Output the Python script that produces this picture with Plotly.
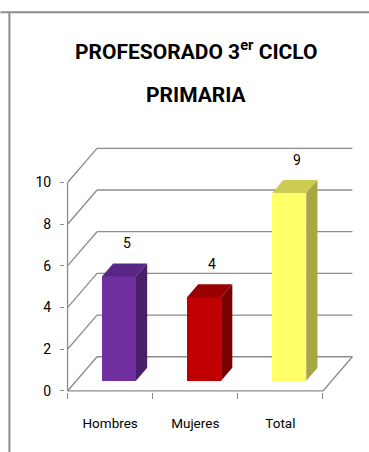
import plotly.graph_objects as go

# ---- data ----
categories = ["Hombres", "Mujeres", "Total"]
values = [5, 4, 9]
y_ticks = [0, 2, 4, 6, 8, 10]
front_colors = ["#7030A0", "#C00000", "#FFFF66"]
top_colors = ["#5B2787", "#990000", "#CCCC52"]
side_colors = ["#4A1F6A", "#7A0000", "#A6A645"]

# ---- page / projection geometry ----
W, H = 369, 452
UX, UY = 86.7, 20.8          # px per category unit / per value unit
X0PX, Y0PX = 62.0, 390.5     # pixel position of (x=-0.5, y=0)
XMIN, XMAX = -0.53, 2.9
YMIN, YMAX = -0.05, 11.8
DX, DY = 0.346, 1.64         # oblique depth offset (front plane -> back wall)
F0, F1 = 0.30, 0.68          # bar depth span as fractions of DX/DY
BAR_W = 0.40

ml = X0PX - (XMIN + 0.5) * UX
mr = W - (X0PX + (XMAX + 0.5) * UX)
mb = H - (Y0PX - YMIN * UY)
mt = Y0PX - YMAX * UY
pw, ph = W - ml - mr, H - mt - mb


def px(x):
    return (x - ml) / pw


def py(y):
    return (H - mb - y) / ph


GRID = "#8C8C8C"
FONT = "Roboto, Liberation Sans, sans-serif"

fig = go.Figure()

# front faces of the columns
b0 = F0 * DY
fig.add_trace(go.Bar(
    x=list(range(len(categories))), y=values, base=b0,
    width=BAR_W, offset=-BAR_W / 2 + F0 * DX,
    marker=dict(color=front_colors, line=dict(width=0)),
    hoverinfo="skip", showlegend=False,
))

# top and side faces
ddx, ddy = (F1 - F0) * DX, (F1 - F0) * DY
for i, v in enumerate(values):
    xl = i - BAR_W / 2 + F0 * DX
    xr = xl + BAR_W
    yt = v + b0
    fig.add_trace(go.Scatter(
        x=[xl, xr, xr + ddx, xl + ddx, xl], y=[yt, yt, yt + ddy, yt + ddy, yt],
        fill="toself", fillcolor=top_colors[i], mode="lines", line=dict(width=0),
        hoverinfo="skip", showlegend=False,
    ))
    fig.add_trace(go.Scatter(
        x=[xr, xr, xr + ddx, xr + ddx, xr], y=[b0, yt, yt + ddy, b0 + ddy, b0],
        fill="toself", fillcolor=side_colors[i], mode="lines", line=dict(width=0),
        hoverinfo="skip", showlegend=False,
    ))

# walls, floor and gridlines
shapes = []
line = dict(color=GRID, width=1.3)
for t in y_ticks:
    shapes.append(dict(type="line", xref="x", yref="y", x0=-0.5, y0=t,
                       x1=-0.5 + DX, y1=t + DY, line=line, layer="below"))
    shapes.append(dict(type="line", xref="x", yref="y", x0=-0.5 + DX, y0=t + DY,
                       x1=2.5 + DX, y1=t + DY, line=line, layer="below"))
shapes.append(dict(type="line", xref="x", yref="y", x0=-0.5, y0=0, x1=2.5, y1=0,
                   line=line, layer="below"))
shapes.append(dict(type="line", xref="x", yref="y", x0=2.5, y0=0, x1=2.5 + DX, y1=DY,
                   line=line, layer="below"))
shapes.append(dict(type="line", xref="x", yref="y", x0=-0.5, y0=0, x1=-0.5, y1=y_ticks[-1],
                   line=line, layer="below"))

# chart frame
frame = dict(color="#8C8C8C", width=2)
shapes.append(dict(type="line", xref="paper", yref="paper", x0=px(0), y0=py(12.5),
                   x1=px(W), y1=py(12.5), line=frame))
shapes.append(dict(type="line", xref="paper", yref="paper", x0=px(9), y0=py(12.5),
                   x1=px(9), y1=py(H), line=frame))

annotations = [
    dict(text="<b>PROFESORADO 3<sup>er</sup> CICLO</b>", xref="paper", yref="paper",
         x=px(196), y=py(50), xanchor="center", yanchor="middle", showarrow=False,
         font=dict(family=FONT, size=21, color="#000000")),
    dict(text="<b>PRIMARIA</b>", xref="paper", yref="paper",
         x=px(196), y=py(95), xanchor="center", yanchor="middle", showarrow=False,
         font=dict(family=FONT, size=21, color="#000000")),
]
for i, v in enumerate(values):
    annotations.append(dict(text=str(v), x=i + 0.2, y=v + 2.1, xref="x", yref="y",
                            showarrow=False, xanchor="center", yanchor="middle",
                            font=dict(family=FONT, size=14, color="#000000")))

fig.update_layout(
    width=W, height=H,
    margin=dict(l=ml, r=mr, t=mt, b=mb, pad=0),
    paper_bgcolor="white", plot_bgcolor="white",
    shapes=shapes, annotations=annotations,
    bargap=0, showlegend=False,
    font=dict(family=FONT, color="#000000"),
    xaxis=dict(
        range=[XMIN, XMAX], showgrid=False, zeroline=False, showline=False,
        tickmode="array", tickvals=list(range(len(categories))), ticktext=categories,
        ticks="", ticklabelstandoff=21, tickfont=dict(family=FONT, size=13.5, color="#000000"),
        minor=dict(tickmode="array", tickvals=[-0.5, 0.5, 1.5, 2.5], ticks="outside",
                   ticklen=6, tickcolor=GRID, tickwidth=1.3, showgrid=False),
        fixedrange=True,
    ),
    yaxis=dict(
        range=[YMIN, YMAX], showgrid=False, zeroline=False, showline=False,
        tickmode="array", tickvals=y_ticks, ticks="outside", ticklen=4,
        tickcolor=GRID, tickwidth=1.3, ticklabelstandoff=6,
        tickfont=dict(family=FONT, size=14, color="#000000"),
        fixedrange=True,
    ),
)

fig.write_html("out.html", config={"displayModeBar": False})
